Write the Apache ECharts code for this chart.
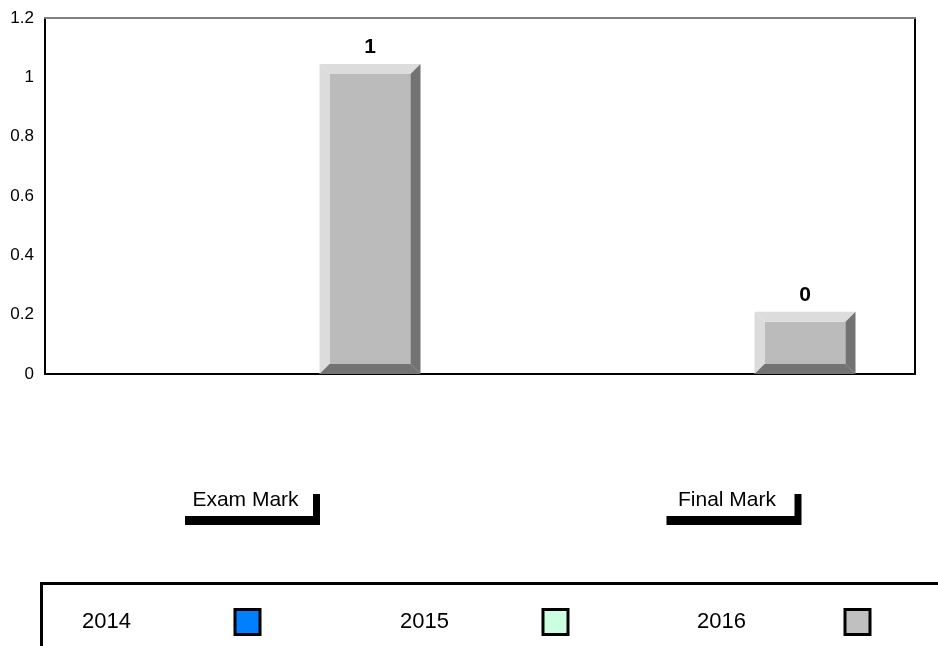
<!DOCTYPE html>
<html>
<head>
<meta charset="utf-8">
<script src="https://cdn.jsdelivr.net/npm/echarts@6/dist/echarts.min.js"></script>
<style>html,body{margin:0;padding:0;background:#fff}#c{width:938px;height:646px}</style>
</head>
<body>
<div id="c"></div>
<script>
// ---- data ----
var categories = ['Exam Mark', 'Final Mark'];
var seriesNames = ['2014', '2015', '2016'];
var values2014 = [null, null];
var values2015 = [null, null];
var values2016 = [1.045, 0.21];
var yTicks = [0, 0.2, 0.4, 0.6, 0.8, 1, 1.2];

var FONT = 'Arial, "Liberation Sans", sans-serif';
var seriesColors = ['#0080ff', '#ccffe0', '#c0c0c0'];
var bevel = [
  {light: '#66b3ff', face: '#0070ee', dark: '#004a99'},
  {light: '#e6fff0', face: '#c4f7d8', dark: '#7fa892'},
  {light: '#dcdcdc', face: '#bbbbbb', dark: '#737373'}
];
var BAR_W = 0.2322, BAR_STEP = 0.2471, BEV = 10;

function makeRender(si) {
  return function (params, api) {
    var cat = api.value(0), v = api.value(1);
    if (v == null || isNaN(v)) return;
    var top = api.coord([cat, v]);
    var base = api.coord([cat, 0]);
    var band = api.size([1, 0])[0];
    var w = band * BAR_W;
    var cx = top[0] + (si - 1) * band * BAR_STEP;
    var x0 = cx - w / 2, x1 = cx + w / 2, y0 = top[1], y1 = base[1], b = BEV;
    var p = bevel[si];
    return {
      type: 'group',
      children: [
        {type: 'rect', shape: {x: x0 + b, y: y0 + b, width: w - 2 * b, height: y1 - y0 - 2 * b}, style: {fill: p.face}},
        {type: 'polygon', shape: {points: [[x0, y0], [x0 + b, y0 + b], [x0 + b, y1 - b], [x0, y1]]}, style: {fill: p.light}},
        {type: 'polygon', shape: {points: [[x0, y0], [x1, y0], [x1 - b, y0 + b], [x0 + b, y0 + b]]}, style: {fill: p.light}},
        {type: 'polygon', shape: {points: [[x1, y0], [x1, y1], [x1 - b, y1 - b], [x1 - b, y0 + b]]}, style: {fill: p.dark}},
        {type: 'polygon', shape: {points: [[x0, y1], [x1, y1], [x1 - b, y1 - b], [x0 + b, y1 - b]]}, style: {fill: p.dark}},
        {type: 'text', x: cx, y: y0 - 6, style: {text: String(Math.round(v)), fill: '#000', font: 'bold 21px ' + FONT, align: 'center', verticalAlign: 'bottom'}}
      ]
    };
  };
}

function toData(vals) {
  var out = [];
  vals.forEach(function (v, i) { if (v != null) out.push([i, v]); });
  return out;
}

var allValues = [values2014, values2015, values2016];
var series = seriesNames.map(function (n, si) {
  return {
    type: 'custom',
    name: n,
    renderItem: makeRender(si),
    itemStyle: {color: seriesColors[si]},
    encode: {x: 0, y: 1},
    data: toData(allValues[si]),
    z: 3
  };
});

var legendLeft = [82, 400, 697];
var legendTextW = [148, 138, 143];
var legends = seriesNames.map(function (n, i) {
  return {
    left: legendLeft[i], top: 608, padding: 0,
    align: 'right', icon: 'rect', itemWidth: 25, itemHeight: 25, itemGap: 0,
    selectedMode: false,
    itemStyle: {borderColor: '#000', borderWidth: 3},
    formatter: '{a|{name}}',
    textStyle: {fontSize: 22, color: '#000', fontFamily: FONT,
      rich: {a: {fontSize: 22, color: '#000', fontFamily: FONT, width: legendTextW[i], align: 'left'}}},
    data: [{name: n, itemStyle: {color: seriesColors[i], borderColor: '#000', borderWidth: 3}}]
  };
});

var chart = echarts.init(document.getElementById('c'), null, {renderer: 'canvas'});
chart.setOption({
  animation: false,
  backgroundColor: '#fff',
  textStyle: {fontFamily: FONT},
  grid: {left: 45, right: 23, top: 18, bottom: 272, containLabel: false},
  legend: legends,
  xAxis: [{
    type: 'category', data: categories, position: 'bottom',
    axisLine: {show: true, onZero: false, lineStyle: {color: '#000', width: 2}},
    axisTick: {show: false},
    axisLabel: {
      interval: 0, margin: 111,
      formatter: function (val) {
        return val === categories[0] ? '{b|' + val + '}{s1| }' : '{s2| }{b|' + val + '}';
      },
      rich: {
        b: {fontSize: 21, color: '#000', fontFamily: FONT, width: 135, height: 31, lineHeight: 31, align: 'center',
            backgroundColor: '#fff', shadowColor: '#000', shadowBlur: 0, shadowOffsetX: 7, shadowOffsetY: 9},
        s1: {width: 34, height: 31},
        s2: {width: 59, height: 31}
      }
    }
  }, {
    type: 'category', data: categories, position: 'top',
    axisLine: {show: true, onZero: false, lineStyle: {color: '#808080', width: 2}},
    axisTick: {show: false}, axisLabel: {show: false}
  }],
  yAxis: [{
    type: 'value', min: yTicks[0], max: yTicks[yTicks.length - 1], interval: yTicks[1] - yTicks[0],
    axisLine: {show: true, onZero: false, lineStyle: {color: '#000', width: 2}},
    axisTick: {show: false},
    splitLine: {show: false},
    axisLabel: {color: '#000', fontSize: 17, fontFamily: FONT, margin: 11}
  }, {
    type: 'value', position: 'right', min: yTicks[0], max: yTicks[yTicks.length - 1], interval: yTicks[1] - yTicks[0],
    axisLine: {show: true, onZero: false, lineStyle: {color: '#000', width: 2}},
    axisTick: {show: false}, splitLine: {show: false}, axisLabel: {show: false}
  }],
  graphic: [{
    type: 'rect', left: 39, top: 581, silent: true,
    shape: {x: 0, y: 0, width: 1000, height: 200},
    style: {fill: null, stroke: '#000', lineWidth: 3}
  }],
  series: series
});
</script>
</body>
</html>
